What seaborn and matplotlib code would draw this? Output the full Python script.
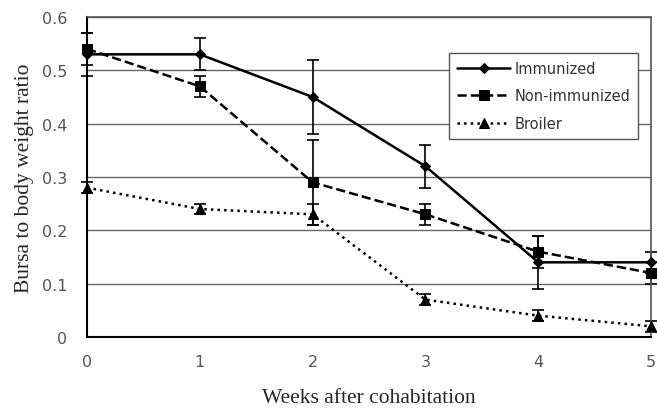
import matplotlib
matplotlib.use("Agg")
import matplotlib.pyplot as plt
import seaborn as sns
import numpy as np
import pandas as pd

weeks = [0, 1, 2, 3, 4, 5]
immunized = [0.53, 0.53, 0.45, 0.32, 0.14, 0.14]
immunized_err = [0.04, 0.03, 0.07, 0.04, 0.05, 0.02]
non_immunized = [0.54, 0.47, 0.29, 0.23, 0.16, 0.12]
non_immunized_err = [0.03, 0.02, 0.08, 0.02, 0.03, 0.02]
broiler = [0.28, 0.24, 0.23, 0.07, 0.04, 0.02]
broiler_err = [0.01, 0.01, 0.02, 0.01, 0.01, 0.01]
series_names = ["Immunized", "Non-immunized", "Broiler"]
yticks = [0, 0.1, 0.2, 0.3, 0.4, 0.5, 0.6]
ytick_labels = ["0", "0.1", "0.2", "0.3", "0.4", "0.5", "0.6"]

sns.set_style("white")
plt.rcParams['font.family'] = ['DejaVu Sans']

fig = plt.figure(figsize=(6.57, 4.14), dpi=100)
ax = fig.add_axes([0.1324, 0.1836, 0.8586, 0.7729])

styles = [("-", "D", 5), ("--", "s", 7.5), (":", "^", 7.5)]
vals = [immunized, non_immunized, broiler]
errs = [immunized_err, non_immunized_err, broiler_err]

for name, v, e, (ls, mk, ms) in zip(series_names, vals, errs, styles):
    df = pd.DataFrame({"week": weeks, "value": v})
    sns.lineplot(data=df, x="week", y="value", ax=ax, color="black", linestyle=ls,
                 marker=mk, markersize=ms, linewidth=1.8, label=name, clip_on=False,
                 markeredgecolor="black", zorder=3)
    ax.errorbar(weeks, v, yerr=e, fmt="none", ecolor="black", elinewidth=1.2,
                capsize=4, capthick=1.2, clip_on=False, zorder=2)

ax.set_xlim(0, 5)
ax.set_ylim(0, 0.6)
ax.set_yticks(yticks)
ax.set_yticklabels(ytick_labels)
ax.set_xticks(weeks)
ax.yaxis.grid(True, color="#666666", linewidth=1)
ax.xaxis.grid(False)
ax.set_axisbelow(True)
for s in ["left", "bottom"]:
    ax.spines[s].set_color("black")
    ax.spines[s].set_linewidth(1.5)
for s in ["top", "right"]:
    ax.spines[s].set_color("#555555")
    ax.spines[s].set_linewidth(1.2)
ax.tick_params(axis="x", direction="out", length=5, color="#555555", labelsize=11.5,
               labelcolor="#555555", pad=7)
ax.tick_params(axis="y", length=0, labelsize=11.5, labelcolor="#555555", pad=14)

ax.set_xlabel("Weeks after cohabitation", family="Liberation Serif", fontsize=15.5,
              labelpad=14)
ax.set_ylabel("Bursa to body weight ratio", family="Liberation Serif", fontsize=15.5,
              labelpad=6)

leg = ax.legend(loc="upper right", bbox_to_anchor=(0.977, 0.888), frameon=True,
                fancybox=False, edgecolor="#555555", fontsize=10.5, handlelength=3.6,
                handletextpad=0.3, labelspacing=0.85, borderpad=0.55, borderaxespad=0,
                framealpha=1)
leg.get_frame().set_linewidth(1)
for t in leg.get_texts():
    t.set_color("#333333")

fig.savefig("out.png", dpi=100)
